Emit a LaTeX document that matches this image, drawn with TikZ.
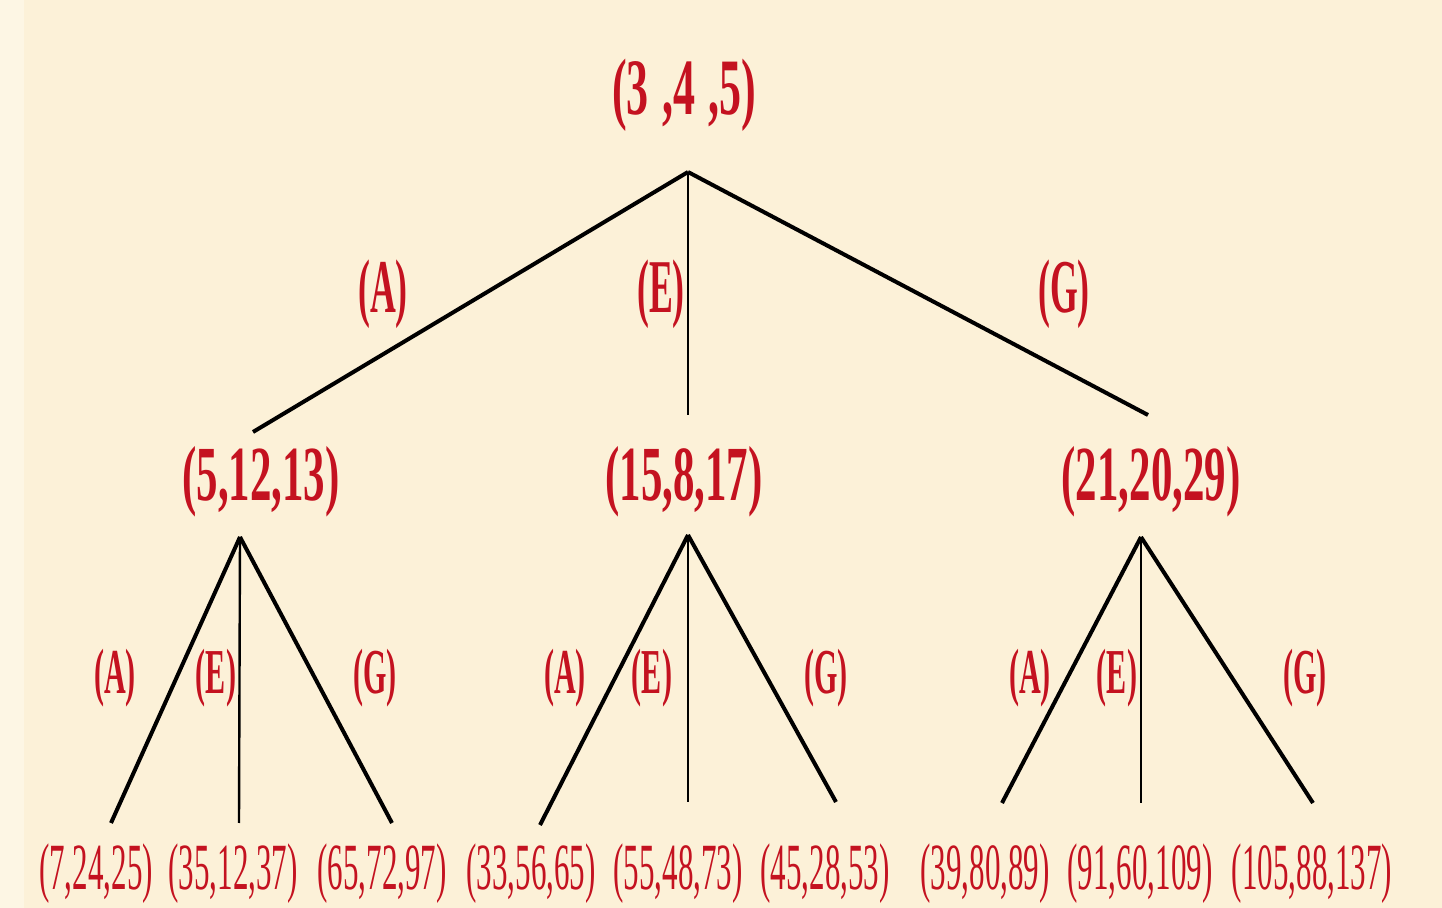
\documentclass[tikz,border=0pt]{standalone}
\usepackage{fontspec}
\usepackage{tikz}
\usetikzlibrary{positioning}
\newfontfamily\tripfont[FakeStretch=0.55]{Liberation Serif}
\newfontfamily\leaffont[FakeStretch=0.47]{Liberation Serif}
\definecolor{paper}{RGB}{252,241,216}
\definecolor{paperedge}{RGB}{253,246,228}
\definecolor{triplered}{RGB}{196,18,32}
\tikzset{
	triple/.style = {inner sep = 0pt, text = triplered, font = \tripfont\bfseries\fontsize{39}{39}\selectfont},
	leaf/.style = {inner sep = 0pt, text = triplered, font = \leaffont\fontsize{33}{33}\selectfont},
	biglabel/.style = {inner sep = 0pt, text = triplered, font = \leaffont\bfseries\fontsize{38}{38}\selectfont},
	smalllabel/.style = {inner sep = 0pt, text = triplered, font = \leaffont\bfseries\fontsize{32}{32}\selectfont},
	branch/.style = {black, line width = 2pt},
	stem/.style = {black, line width = 1.2pt}
}

\begin{document}
\begin{tikzpicture}[x = 0.5pt, y = -0.5pt]
			\fill[paper] (0, 0) rectangle (1442, 908);
			\fill[paperedge] (0, 0) rectangle (24, 908);
			\node[triple, font = \tripfont\bfseries\fontsize{40}{40}\selectfont] (root) at (684, 95){(3\,,4\,,5)};
			\node[triple] (t1) at (261, 482){(5,12,13)};
			\node[triple] (t2) at (684, 482){(15,8,17)};
			\node[triple] (t3) at (1151, 482){(21,20,29)};
			\coordinate (r) at (688, 172);
			\coordinate (r1) at (253, 432);
			\coordinate (r2) at (688, 415);
			\coordinate (r3) at (1148, 415);
			\draw[branch] (r)--(r1);
			\draw[stem] (r)--(r2);
			\draw[branch] (r)--(r3);
			\node[biglabel] (la) at (383, 294){(A)};
			\node[biglabel] (le) at (661, 294){(E)};
			\node[biglabel] (lg) at (1064, 294){(G)};
			\coordinate (a1) at (240, 537);
			\coordinate (a1a) at (111, 823);
			\coordinate (a1e) at (239, 823);
			\coordinate (a1g) at (392, 823);
			\draw[branch] (a1)--(a1a);
			\draw[stem] (a1)--(a1e);
			\draw[branch] (a1)--(a1g);
			\coordinate (a2) at (688, 535);
			\coordinate (a2a) at (540, 825);
			\coordinate (a2e) at (688, 802);
			\coordinate (a2g) at (836, 802);
			\draw[branch] (a2)--(a2a);
			\draw[stem] (a2)--(a2e);
			\draw[branch] (a2)--(a2g);
			\coordinate (a3) at (1141, 537);
			\coordinate (a3a) at (1002, 803);
			\coordinate (a3e) at (1141, 803);
			\coordinate (a3g) at (1313, 803);
			\draw[branch] (a3)--(a3a);
			\draw[stem] (a3)--(a3e);
			\draw[branch] (a3)--(a3g);
			\node[smalllabel] (l1a) at (115, 678){(A)};
			\node[smalllabel] (l1e) at (216, 678){(E)};
			\node[smalllabel] (l1g) at (375, 678){(G)};
			\node[smalllabel] (l2a) at (565, 678){(A)};
			\node[smalllabel] (l2e) at (652, 678){(E)};
			\node[smalllabel] (l2g) at (826, 678){(G)};
			\node[smalllabel] (l3a) at (1030, 678){(A)};
			\node[smalllabel] (l3e) at (1117, 678){(E)};
			\node[smalllabel] (l3g) at (1305, 678){(G)};
			\node[leaf] (p1) at (96, 874){(7,24,25)};
			\node[leaf] (p2) at (233, 874){(35,12,37)};
			\node[leaf] (p3) at (382, 874){(65,72,97)};
			\node[leaf] (p4) at (531, 874){(33,56,65)};
			\node[leaf] (p5) at (678, 874){(55,48,73)};
			\node[leaf] (p6) at (825, 874){(45,28,53)};
			\node[leaf] (p7) at (985, 874){(39,80,89)};
			\node[leaf] (p8) at (1140, 874){(91,60,109)};
			\node[leaf] (p9) at (1312, 874){(105,88,137)};
		\end{tikzpicture}
\end{document}
